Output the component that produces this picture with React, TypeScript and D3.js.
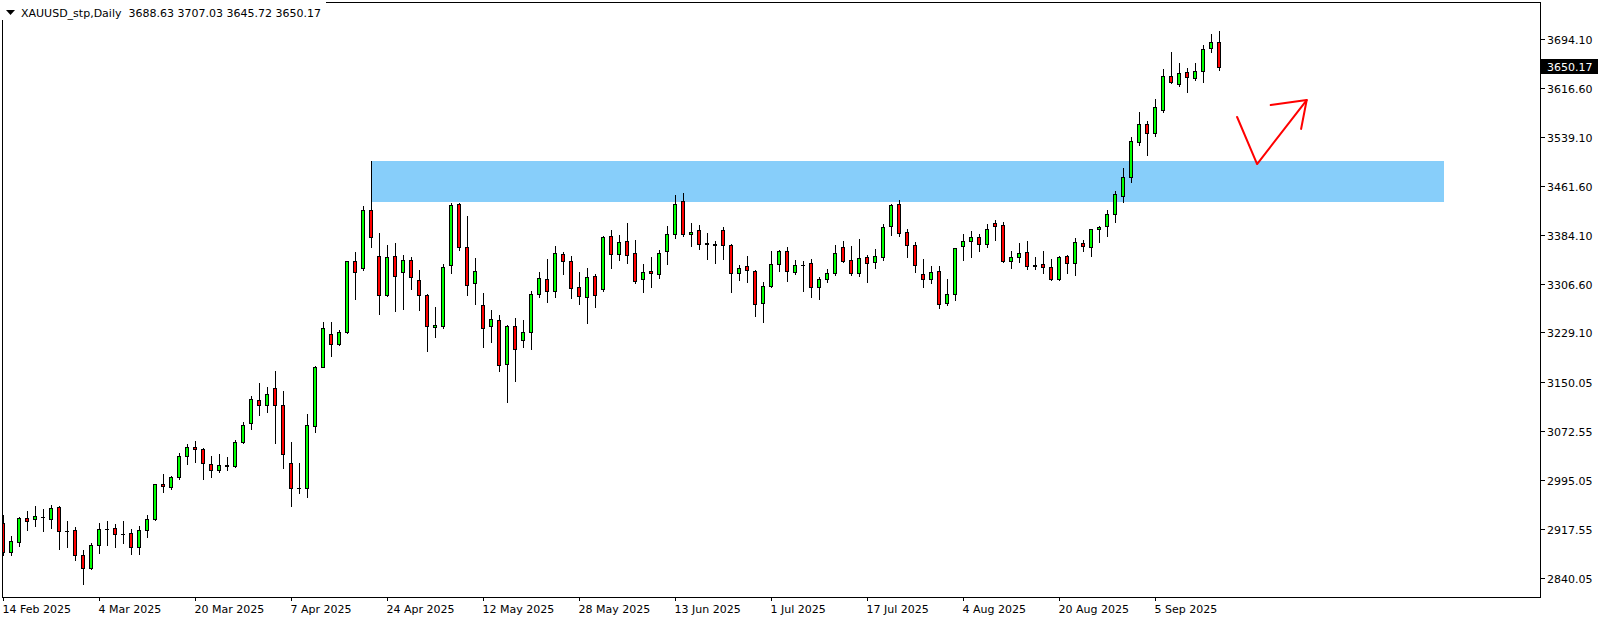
import React from 'react';
import * as d3 from 'd3';

const W = 1604;
const H = 621;

// OHLC series (daily bars, index 0 = 14 Feb 2025 ... index 152 = 17 Sep 2025)
const opens = [
  2927.2, 2880.7, 2897.6, 2934.5, 2933.0, 2936.7, 2933.0, 2952.0, 2915.0, 2915.5,
  2875.9, 2855.3, 2891.8, 2917.7, 2918.7, 2910.2, 2910.8, 2888.6, 2915.5, 2933.0,
  2989.0, 2983.7, 2999.5, 3032.8, 3047.6, 3043.9, 3020.1, 3010.6, 3018.0, 3018.0,
  3055.0, 3085.1, 3121.5, 3113.6, 3140.5, 3113.6, 3021.7, 2982.1, 2982.1, 3080.3,
  3174.9, 3226.1, 3210.3, 3230.3, 3341.8, 3330.7, 3422.6, 3349.7, 3287.9, 3349.7,
  3324.4, 3343.4, 3311.7, 3287.9, 3237.2, 3238.8, 3335.5, 3432.1, 3364.0, 3306.9,
  3272.1, 3238.8, 3248.3, 3178.6, 3238.8, 3216.6, 3229.3, 3289.5, 3313.3, 3294.2,
  3352.9, 3341.8, 3300.6, 3284.7, 3318.0, 3297.4, 3381.4, 3352.9, 3373.5, 3354.5,
  3313.3, 3326.0, 3321.2, 3357.6, 3384.6, 3436.9, 3384.6, 3390.9, 3370.3, 3368.7,
  3390.9, 3367.1, 3322.8, 3333.9, 3326.0, 3275.2, 3302.2, 3337.0, 3357.6, 3324.4,
  3336.5, 3338.6, 3300.6, 3313.3, 3322.8, 3364.0, 3343.4, 3322.8, 3348.1, 3340.2,
  3348.1, 3397.2, 3432.1, 3387.7, 3367.1, 3321.2, 3313.3, 3326.0, 3275.2, 3289.5,
  3365.6, 3373.5, 3379.8, 3368.7, 3402.0, 3398.8, 3341.8, 3348.1, 3356.1, 3335.5,
  3337.0, 3332.3, 3314.3, 3349.7, 3338.6, 3370.3, 3364.0, 3392.5, 3397.2, 3416.3,
  3444.8, 3474.9, 3530.3, 3558.9, 3544.6, 3581.1, 3634.9, 3622.3, 3641.3, 3631.8,
  3642.9, 3679.3, 3688.63,
];
const highs = [
  2939.9, 2906.6, 2936.1, 2946.2, 2954.1, 2949.3, 2955.7, 2954.1, 2929.8, 2920.3,
  2883.8, 2894.9, 2927.1, 2929.8, 2925.6, 2929.8, 2917.7, 2922.4, 2939.8, 2989.0,
  3004.8, 3001.6, 3037.6, 3052.3, 3057.6, 3045.5, 3033.3, 3036.5, 3031.7, 3058.7,
  3087.2, 3128.4, 3149.0, 3142.1, 3168.0, 3136.3, 3055.0, 3021.7, 3099.3, 3175.9,
  3245.7, 3245.7, 3232.5, 3342.3, 3356.6, 3429.5, 3500.0, 3386.7, 3367.1, 3370.3,
  3351.8, 3348.1, 3327.5, 3289.5, 3268.9, 3337.0, 3433.7, 3433.7, 3413.1, 3346.5,
  3291.1, 3264.1, 3256.2, 3240.4, 3251.5, 3248.3, 3294.2, 3324.4, 3344.9, 3365.6,
  3356.1, 3349.7, 3324.4, 3330.7, 3321.2, 3381.4, 3390.9, 3383.0, 3402.0, 3375.1,
  3337.0, 3348.1, 3359.2, 3397.2, 3446.9, 3449.5, 3402.0, 3398.8, 3386.2, 3373.5,
  3395.7, 3368.7, 3335.5, 3349.7, 3327.5, 3308.5, 3357.6, 3359.2, 3364.0, 3343.4,
  3341.8, 3345.0, 3316.4, 3329.1, 3367.1, 3373.5, 3365.6, 3376.7, 3351.3, 3360.8,
  3400.4, 3432.1, 3438.5, 3392.5, 3371.9, 3345.0, 3333.9, 3333.9, 3313.3, 3362.9,
  3384.6, 3389.3, 3384.6, 3400.4, 3406.8, 3403.6, 3357.6, 3370.3, 3373.5, 3348.1,
  3357.6, 3345.5, 3350.2, 3351.8, 3378.2, 3375.1, 3393.0, 3397.8, 3422.6, 3453.2,
  3489.2, 3538.3, 3577.9, 3563.6, 3598.5, 3646.0, 3673.0, 3655.5, 3647.6, 3655.5,
  3684.1, 3701.5, 3707.03,
];
const lows = [
  2876.5, 2877.0, 2891.2, 2916.1, 2922.9, 2915.0, 2919.8, 2886.5, 2889.6, 2868.0,
  2831.0, 2854.8, 2880.1, 2892.8, 2889.6, 2896.0, 2878.5, 2878.5, 2905.5, 2932.4,
  2976.8, 2981.6, 2997.4, 3021.2, 3023.8, 2997.4, 3000.6, 3007.4, 3011.7, 3016.4,
  3053.4, 3075.6, 3098.8, 3103.6, 3053.4, 3014.9, 2954.6, 2974.2, 2968.9, 3070.8,
  3174.9, 3192.3, 3208.7, 3228.8, 3282.6, 3328.1, 3365.0, 3258.9, 3287.4, 3263.6,
  3266.8, 3298.5, 3265.2, 3200.2, 3221.4, 3235.6, 3322.8, 3359.2, 3287.9, 3273.6,
  3206.6, 3214.5, 3167.5, 3119.4, 3152.7, 3205.5, 3203.4, 3284.7, 3277.9, 3285.8,
  3322.2, 3283.2, 3274.7, 3244.6, 3269.9, 3294.3, 3331.7, 3343.4, 3338.6, 3306.9,
  3292.7, 3300.6, 3314.8, 3337.0, 3378.2, 3381.4, 3365.6, 3360.8, 3346.0, 3339.7,
  3346.0, 3293.7, 3311.7, 3308.5, 3254.6, 3245.1, 3300.6, 3326.0, 3310.1, 3322.2,
  3295.3, 3285.8, 3281.6, 3308.5, 3320.7, 3340.2, 3319.6, 3318.0, 3308.5, 3330.7,
  3343.4, 3383.0, 3381.4, 3349.2, 3324.4, 3300.6, 3306.9, 3267.3, 3272.1, 3280.0,
  3343.4, 3348.1, 3357.6, 3364.0, 3375.1, 3340.2, 3330.7, 3340.2, 3329.1, 3330.2,
  3322.8, 3312.2, 3312.2, 3323.8, 3320.7, 3358.7, 3350.8, 3372.9, 3382.5, 3403.6,
  3435.3, 3468.0, 3525.6, 3509.8, 3539.9, 3577.9, 3623.9, 3619.1, 3609.6, 3628.6,
  3625.4, 3673.0, 3645.72,
];
const closes = [
  2881.7, 2898.1, 2934.5, 2930.9, 2937.7, 2937.2, 2950.4, 2913.9, 2914.5, 2875.9,
  2856.4, 2891.8, 2917.1, 2918.2, 2909.2, 2909.7, 2888.6, 2915.5, 2933.0, 2988.4,
  2985.3, 3000.1, 3032.8, 3047.1, 3043.9, 3021.7, 3010.6, 3018.5, 3018.5, 3055.0,
  3081.9, 3123.1, 3113.6, 3131.0, 3113.6, 3036.0, 2982.1, 2982.5, 3081.9, 3173.8,
  3235.6, 3210.3, 3229.3, 3341.8, 3324.4, 3422.6, 3379.8, 3287.9, 3348.1, 3318.0,
  3343.4, 3316.4, 3287.9, 3238.8, 3240.4, 3332.3, 3430.5, 3364.0, 3303.8, 3325.9,
  3235.6, 3249.9, 3177.0, 3238.8, 3202.3, 3229.3, 3289.5, 3314.8, 3294.2, 3354.5,
  3341.8, 3299.0, 3286.3, 3316.4, 3287.9, 3379.8, 3352.9, 3371.9, 3351.3, 3310.1,
  3324.4, 3322.8, 3354.5, 3384.6, 3432.1, 3384.6, 3387.7, 3368.7, 3369.3, 3367.7,
  3367.1, 3322.8, 3330.7, 3327.5, 3273.7, 3302.2, 3337.0, 3357.6, 3326.0, 3335.5,
  3335.5, 3300.6, 3313.3, 3322.8, 3354.5, 3341.8, 3322.8, 3346.5, 3338.6, 3349.7,
  3395.7, 3430.5, 3386.2, 3367.1, 3335.5, 3313.3, 3324.4, 3273.7, 3289.5, 3362.4,
  3373.5, 3379.8, 3368.7, 3392.5, 3397.2, 3341.8, 3348.1, 3354.5, 3333.9, 3334.4,
  3332.3, 3314.3, 3348.1, 3338.6, 3371.9, 3365.6, 3392.5, 3395.7, 3416.3, 3448.0,
  3474.9, 3531.9, 3558.9, 3544.6, 3585.8, 3634.9, 3625.4, 3639.7, 3633.3, 3642.9,
  3677.7, 3688.8, 3650.17,
];

// time axis labels and the bar they belong to
const dateLabels = [
  '14 Feb 2025', '4 Mar 2025', '20 Mar 2025', '7 Apr 2025', '24 Apr 2025',
  '12 May 2025', '28 May 2025', '13 Jun 2025', '1 Jul 2025', '17 Jul 2025',
  '4 Aug 2025', '20 Aug 2025', '5 Sep 2025',
];
const dateBars = [0, 12, 24, 36, 48, 60, 72, 84, 96, 108, 120, 132, 144];

// price axis labels
const priceTicks = [
  3694.10, 3616.60, 3539.10, 3461.60, 3384.10, 3306.60, 3229.10,
  3150.05, 3072.55, 2995.05, 2917.55, 2840.05,
];
const lastPrice = 3650.17;
const headerText = 'XAUUSD_stp,Daily  3688.63 3707.03 3645.72 3650.17';

// zone rectangle: [bar from, bar to], [price top, price bottom]
const zoneBars = [46, 180];
const zonePrices = [3500.0, 3436.5];

// hand-drawn arrow, points as [bar, price]
const arrowLine = [[154.2, 3570.5], [156.7, 3496.0], [162.9, 3597.4]];
const arrowHead = [[158.4, 3589.5], [162.9, 3597.4], [162.2, 3551.5]];

const FONT = "'DejaVu Sans', Verdana, sans-serif";

export default function App() {
  const x = d3.scaleLinear().domain([0, 1]).range([3.5, 11.5]);
  const y = d3.scaleLinear().domain([2840.05, 3694.1]).range([578, 39]);

  const frameL = 2.5, frameT = 2.5, frameR = 1540.5, frameB = 597.5;

  const line = d3.line<number[]>().x((d) => x(d[0])).y((d) => y(d[1]));

  const candles = opens.map((o, i) => {
    const c = closes[i];
    const h = highs[i];
    const l = lows[i];
    const cx = x(i);
    const yt = Math.round(y(Math.max(o, c)));
    const yb = Math.round(y(Math.min(o, c)));
    const yh = Math.round(y(h));
    const yl = Math.round(y(l));
    const up = c >= o;
    const bh = yb - yt;
    return (
      <g key={i}>
        <line x1={cx} x2={cx} y1={yh} y2={yl + 1} stroke="#000" strokeWidth={1} />
        {bh >= 1 ? (
          <rect
            x={cx - 2}
            y={yt + 0.5}
            width={3}
            height={bh}
            fill={up ? '#00ff00' : '#ff0000'}
            stroke="#000"
            strokeWidth={1}
          />
        ) : (
          <line x1={cx - 2.5} x2={cx + 1.5} y1={yt + 0.5} y2={yt + 0.5} stroke="#000" strokeWidth={1} />
        )}
      </g>
    );
  });

  const lastY = Math.round(y(lastPrice));

  return (
    <svg
      width={W}
      height={H}
      style={{ position: 'absolute', left: 0, top: 0, background: '#fff' }}
      fontFamily={FONT}
      fontSize={11}
    >
      <rect x={0} y={0} width={W} height={H} fill="#fff" />
      <defs>
        <clipPath id="plot">
          <rect x={3} y={3} width={1537} height={594} />
        </clipPath>
      </defs>

      <g clipPath="url(#plot)" shapeRendering="crispEdges">
        <rect
          x={x(zoneBars[0])}
          y={y(zonePrices[0])}
          width={x(zoneBars[1]) - x(zoneBars[0])}
          height={y(zonePrices[1]) - y(zonePrices[0])}
          fill="#87cefa"
        />
        {candles}
      </g>

      <g clipPath="url(#plot)">
        <path d={line(arrowLine) || ''} fill="none" stroke="#ff0000" strokeWidth={2} strokeLinejoin="round" strokeLinecap="round" />
        <path d={line(arrowHead) || ''} fill="none" stroke="#ff0000" strokeWidth={2} strokeLinejoin="round" strokeLinecap="round" />
      </g>

      {/* frame */}
      <g shapeRendering="crispEdges" stroke="#000" strokeWidth={1} fill="none">
        <rect x={frameL} y={frameT} width={frameR - frameL} height={frameB - frameT} />
      </g>

      {/* price axis */}
      <g shapeRendering="crispEdges">
        {priceTicks.map((p) => {
          const py = Math.round(y(p));
          return (
            <g key={p}>
              <line x1={1541} x2={1545} y1={py + 0.5} y2={py + 0.5} stroke="#000" />
              <text x={1547} y={py + 4.5} fill="#000">{p.toFixed(2)}</text>
            </g>
          );
        })}
        <rect x={1541} y={lastY - 8} width={57} height={15} fill="#000" />
        <text x={1547} y={lastY + 4} fill="#fff">{lastPrice.toFixed(2)}</text>
      </g>

      {/* time axis */}
      <g shapeRendering="crispEdges">
        {dateBars.map((b, i) => (
          <g key={b}>
            <line x1={x(b)} x2={x(b)} y1={598} y2={601} stroke="#000" />
            <text x={x(b) - 1} y={613} fill="#000">{dateLabels[i]}</text>
          </g>
        ))}
      </g>

      {/* header */}
      <rect x={0} y={0} width={326} height={20} fill="#fff" />
      <polygon points="6,10 15,10 10.5,15" fill="#000" />
      <text x={21} y={17} fill="#000" style={{ whiteSpace: 'pre' }}>{headerText}</text>
    </svg>
  );
}
